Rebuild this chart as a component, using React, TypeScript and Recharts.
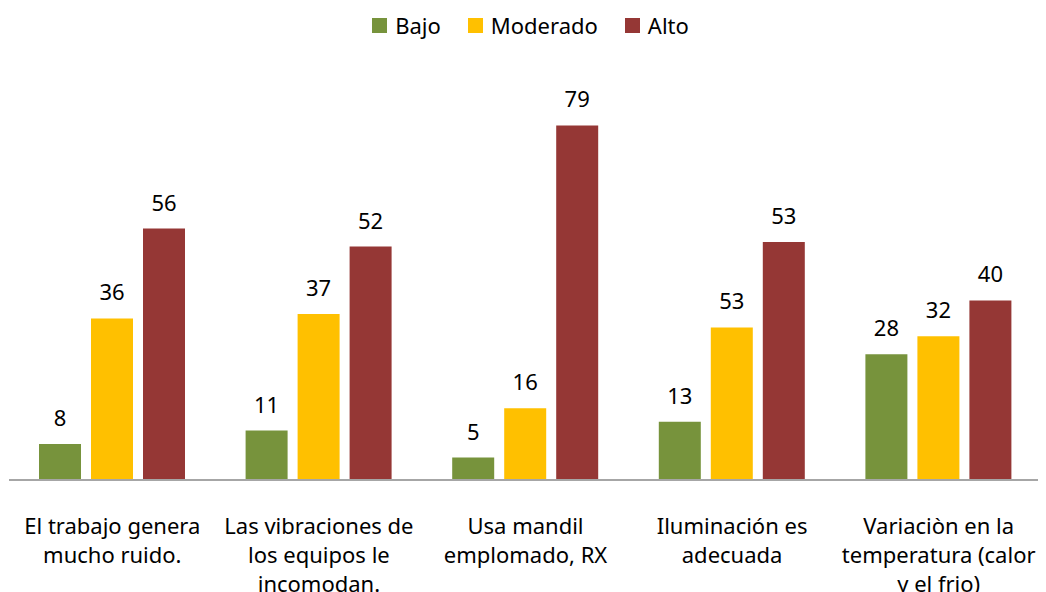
import { Bar, BarChart, LabelList, Legend, XAxis, YAxis } from "recharts";

const categories = [
  ["El trabajo genera", "mucho ruido."],
  ["Las vibraciones de", "los equipos le", "incomodan."],
  ["Usa mandil", "emplomado, RX"],
  ["Iluminación es", "adecuada"],
  ["Variaciòn en la", "temperatura (calor", "y el frio)"],
];
const bajo = [8, 11, 5, 13, 28];
const moderado = [36, 37, 16, 34, 32];
const alto = [56, 52, 79, 53, 40];
// labels as printed in the original (one differs from its bar height)
const moderadoLabels = ["36", "37", "16", "53", "32"];

const SERIES = [
  { key: "bajo", name: "Bajo", color: "#77933C" },
  { key: "moderado", name: "Moderado", color: "#FFC000" },
  { key: "alto", name: "Alto", color: "#953735" },
];

const FONT = "'Noto Sans', sans-serif";

const data = categories.map((c, i) => ({
  name: c.join(" "),
  bajo: bajo[i],
  moderado: moderado[i],
  alto: alto[i],
  bajoLabel: String(bajo[i]),
  moderadoLabel: moderadoLabels[i],
  altoLabel: String(alto[i]),
}));

function CategoryTick({ x, y, index }: any) {
  const lines = categories[index] ?? [];
  return (
    <text x={x} y={y} textAnchor="middle" fontSize={22} fontFamily={FONT} fill="#000">
      {lines.map((l, k) => (
        <tspan key={k} x={x} y={y + 46 + k * 29}>
          {l}
        </tspan>
      ))}
    </text>
  );
}

function TopLegend() {
  return (
    <div
      style={{
        display: "flex",
        justifyContent: "center",
        alignItems: "center",
        gap: 27,
        fontFamily: FONT,
        fontSize: 22,
        color: "#000",
        marginLeft: 7,
      }}
    >
      {SERIES.map((s) => (
        <div key={s.key} style={{ display: "flex", alignItems: "center", gap: 8 }}>
          <span style={{ width: 15, height: 15, background: s.color, display: "inline-block" }} />
          <span>{s.name}</span>
        </div>
      ))}
    </div>
  );
}

export default function App() {
  return (
    <div style={{ width: 1038, height: 584, background: "#fff" }}>
      <BarChart
        width={1038}
        height={584}
        data={data}
        margin={{ top: 38, right: 4, bottom: 0, left: 1 }}
        barGap={10}
        barSize={42}
      >
        <Legend
          verticalAlign="top"
          content={<TopLegend />}
          wrapperStyle={{ top: 2, left: 0, width: 1038 }}
        />
        <XAxis
          dataKey="name"
          height={112}
          tickLine={false}
          axisLine={{ stroke: "#A6A6A6", strokeWidth: 2 }}
          tick={<CategoryTick />}
          interval={0}
        />
        <YAxis hide domain={[0, 90]} ticks={[0, 30, 60, 90]} allowDataOverflow />
        {SERIES.map((s) => (
          <Bar key={s.key} dataKey={s.key} name={s.name} fill={s.color} isAnimationActive={false}>
            <LabelList
              dataKey={`${s.key}Label`}
              position="top"
              offset={18}
              fontSize={22}
              fontFamily={FONT}
              fill="#000"
            />
          </Bar>
        ))}
      </BarChart>
    </div>
  );
}
